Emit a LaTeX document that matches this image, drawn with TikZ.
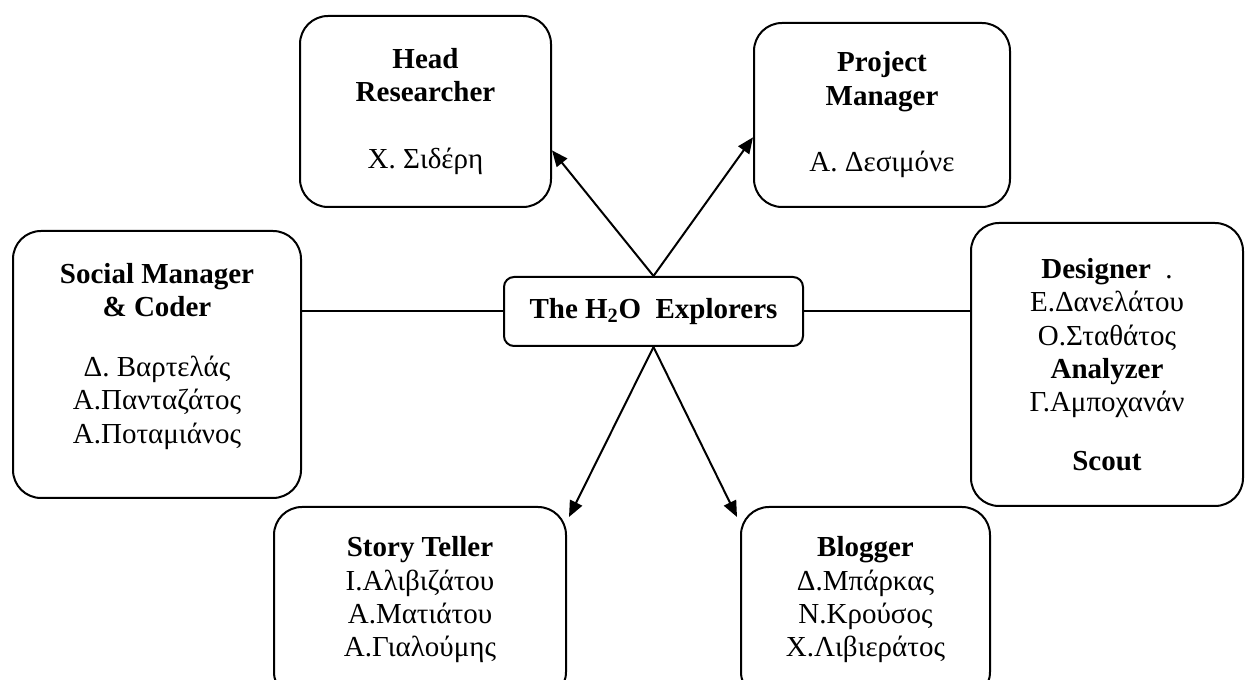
\documentclass[tikz,border=0pt]{standalone}
\usepackage{fontspec}
\setmainfont{Liberation Serif}
\usetikzlibrary{arrows.meta,calc}
\begin{document}
\begin{tikzpicture}[x=0.75pt,y=-0.75pt,
  box/.style={draw, line width=1.5pt, rounded corners=21pt, align=center, inner sep=0pt,
    font=\fontsize{21.75pt}{25pt}\selectfont},
  conn/.style={line width=1.5pt},
  arr/.style={line width=1.5pt, -{Triangle[length=12pt,width=10pt]}}]
\useasboundingbox (0,0) rectangle (1247,680);

\node[box, minimum width={251*0.75pt}, minimum height={191*0.75pt}] (hr) at (425.5,111.5)
  {\textbf{Head}\\\textbf{Researcher}\\[25pt]Χ. Σιδέρη};
\node[box, minimum width={256*0.75pt}, minimum height={184*0.75pt}] (pm) at (882,115)
  {\textbf{Project}\\\textbf{Manager}\\[25pt]Α. Δεσιμόνε};
\node[box, minimum width={288*0.75pt}, minimum height={267*0.75pt}] (soc) at (157,364.5)
  {\textbf{Social Manager}\\\textbf{\& Coder}\\[20pt]Δ. Βαρτελάς\\Α.Πανταζάτος\\Α.Ποταμιάνος\rule[-17pt]{0pt}{17pt}};
\node[box, minimum width={272*0.75pt}, minimum height={283*0.75pt}] (des) at (1107,364.5)
  {\textbf{Designer}\ \ .\\Ε.Δανελάτου\\Ο.Σταθάτος\\\textbf{Analyzer}\\Γ.Αμποχανάν\\[19pt]\textbf{Scout}};
\node[box, minimum width={292*0.75pt}, minimum height={193*0.75pt}] (st) at (420,603.5)
  {\textbf{Story Teller}\\Ι.Αλιβιζάτου\\Α.Ματιάτου\\Α.Γιαλούμης\rule[-10pt]{0pt}{10pt}};
\node[box, minimum width={249*0.75pt}, minimum height={193*0.75pt}] (bl) at (865.5,603.5)
  {\textbf{Blogger}\\Δ.Μπάρκας\\Ν.Κρούσος\\Χ.Λιβιεράτος\rule[-10pt]{0pt}{10pt}};
\node[box, rounded corners=7.5pt, minimum width={299*0.75pt}, minimum height={69*0.75pt}] (c) at (653.5,311.5)
  {\textbf{The H\textsubscript{2}O\ \ Explorers}};

\draw[conn] (c.west) -- (c.west -| soc.east);
\draw[conn] (c.east) -- (c.east -| des.west);
\draw[arr] (c.north) -- ($(hr.north east)!0.7016!(hr.south east)$);
\draw[arr] (c.north) -- ($(pm.north west)!0.62!(pm.south west)$);
\draw[arr] (c.south) -- ([shift={(2,11)}]st.north east);
\draw[arr] (c.south) -- ([shift={(-3,11)}]bl.north west);
\end{tikzpicture}
\end{document}
